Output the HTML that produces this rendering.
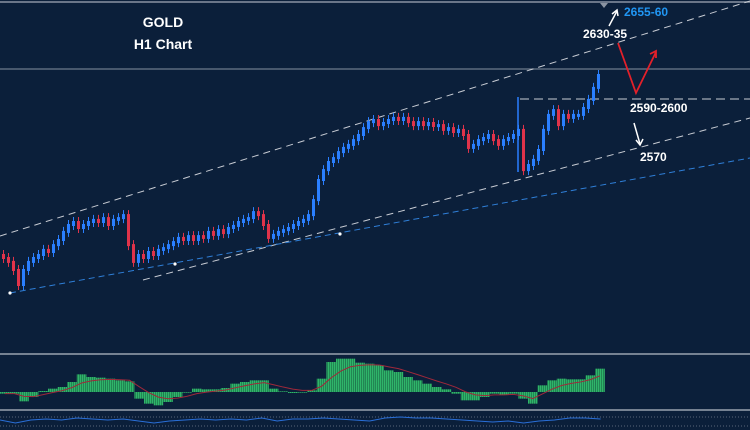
<!DOCTYPE html>
<html><head><meta charset="utf-8"><style>
html,body{margin:0;padding:0;background:#0b1f3a;width:750px;height:430px;overflow:hidden}
svg{display:block}
text{font-family:"Liberation Sans",sans-serif;font-weight:bold}
</style></head><body>
<svg id="chart" width="750" height="430" viewBox="0 0 750 430" xmlns="http://www.w3.org/2000/svg">
<defs>
<pattern id="stripes" width="2" height="4" patternUnits="userSpaceOnUse">
<rect x="0" y="0" width="1.4" height="4" fill="#2fb56a"/><rect x="1.4" y="0" width="0.6" height="4" fill="#1d7a4a"/>
</pattern>
</defs>
<rect x="0" y="0" width="750" height="430" fill="#0b1f3a"/>
<line x1="0" y1="2" x2="750" y2="2" stroke="#8a94a3" stroke-width="1.5"/>
<polygon points="600,3 608,3 604,8" fill="#8a94a3"/>
<line x1="0" y1="69" x2="750" y2="69" stroke="#6e7a8c" stroke-width="1.2"/>
<line x1="0" y1="236" x2="750" y2="1" stroke="#c8ccd4" stroke-width="1" stroke-dasharray="7,5"/>
<line x1="143" y1="280" x2="750" y2="118" stroke="#c8ccd4" stroke-width="1" stroke-dasharray="7,5"/>
<line x1="10" y1="293" x2="750" y2="158" stroke="#2f7fd8" stroke-width="1" stroke-dasharray="6,4"/>
<line x1="520" y1="99" x2="750" y2="99" stroke="#c8ccd4" stroke-width="1" stroke-dasharray="9,5"/>
<line x1="518" y1="97" x2="518" y2="172" stroke="#2a7fff" stroke-width="1.5"/>
<circle cx="10" cy="293" r="1.6" fill="#fff"/>
<circle cx="175" cy="264" r="1.6" fill="#fff"/>
<circle cx="340" cy="234" r="1.6" fill="#fff"/>
<g id="candles"></g>
<text x="163" y="27" fill="#fff" font-size="14" text-anchor="middle">GOLD</text>
<text x="163" y="49" fill="#fff" font-size="14" text-anchor="middle">H1 Chart</text>
<text x="624" y="16" fill="#2196f3" font-size="12">2655-60</text>
<text x="583" y="38" fill="#fff" font-size="12">2630-35</text>
<text x="630" y="112" fill="#fff" font-size="12">2590-2600</text>
<text x="640" y="161" fill="#fff" font-size="12">2570</text>
<g stroke="#fff" stroke-width="1.5" fill="none">
<line x1="609" y1="26" x2="617" y2="11"/><polyline points="612,14 617,10 618,16"/></g>
<g stroke="#fff" stroke-width="1.5" fill="none">
<line x1="634" y1="123" x2="640" y2="144"/><polyline points="636,140 640,145 643,139"/></g>
<g stroke="#e3202a" stroke-width="1.8" fill="none">
<polyline points="618,43 636,93 656,52"/><polyline points="650,54 656,51 656,58"/></g>
<line x1="0" y1="354" x2="750" y2="354" stroke="#9aa3b0" stroke-width="1.5"/>
<line x1="0" y1="410" x2="750" y2="410" stroke="#9aa3b0" stroke-width="1.5"/>
<g id="macd"></g>
<line x1="0" y1="417" x2="750" y2="417" stroke="#5a6678" stroke-width="1" stroke-dasharray="1,2"/>
<line x1="0" y1="426" x2="750" y2="426" stroke="#5a6678" stroke-width="1" stroke-dasharray="1,2"/>
<g id="osc"></g>
</svg>
<script>
const closes=[2557,2555.7,2553,2548,2553,2555.7,2557,2558,2559.7,2559,2561.3,2563,2565.7,2568,2569,2567,2568,2569,2569.7,2569,2570.3,2568,2569.7,2570.3,2571.3,2561.3,2555.7,2558,2557,2559,2558,2559.7,2560.3,2561.3,2562.3,2563.7,2563,2564.3,2563,2564.3,2563.7,2565.7,2564.7,2566.3,2565.3,2567,2567.7,2569,2569.7,2570.3,2572.3,2571.3,2568,2563.7,2564.7,2565.7,2566.3,2567,2568,2569,2569.7,2571.3,2576.3,2583,2586.3,2589,2590.3,2592.3,2593.7,2594.7,2596.3,2598,2600.3,2602.3,2603,2601.3,2602,2603,2603.7,2603,2603.7,2602.3,2601.3,2602.3,2601.3,2602,2601,2601.3,2599.7,2600.3,2599,2599.7,2598,2593.7,2594.7,2596.3,2597,2598,2596.3,2594.7,2596.3,2597,2598,2599.7,2586.3,2588,2589.7,2593,2599.7,2604.7,2606.3,2601.3,2604.7,2603.7,2604.7,2604.7,2607,2609.7,2613.7,2618];
const histogram=[-5,-5,-28,-15,3,10,15,30,53,45,43,40,35,32,-20,-35,-40,-30,-15,-2,10,8,8,12,25,30,35,35,10,2,-3,-2,5,40,90,100,100,88,85,80,65,60,45,35,25,15,8,-5,-25,-25,-15,-5,-8,-5,-20,-35,20,35,40,38,38,50,70];
const oscValues=[420,423,420,419,420,418,419,420,419,421,423,421,420,419,420,419,420,418,421,419,419,418,419,420,421,418,417,418,418,419,420,421,422,421,423,421,420,418,418,419];
const NS='http://www.w3.org/2000/svg';
const yPrice=p=>69+(2620-p)*3;
const xCandle=i=>2+i*5;
const cg=document.getElementById('candles');
closes.forEach((c,i)=>{
  const o=i?closes[i-1]:c+1;
  const up=c>=o, col=up?'#2a7fff':'#e0334a';
  const x=xCandle(i);
  const yo=yPrice(o), yc=yPrice(c);
  const w=document.createElementNS(NS,'line');
  w.setAttribute('x1',x+1.5);w.setAttribute('x2',x+1.5);
  w.setAttribute('y1',Math.min(yo,yc)-5);w.setAttribute('y2',Math.max(yo,yc)+5);
  w.setAttribute('stroke',col);w.setAttribute('stroke-width','1');
  
  
  cg.appendChild(w);
  const r=document.createElementNS(NS,'rect');
  r.setAttribute('x',x);r.setAttribute('width',3);
  r.setAttribute('y',Math.min(yo,yc)-1);r.setAttribute('height',Math.max(3,Math.abs(yo-yc)+2));
  r.setAttribute('fill',col);
  
  
  cg.appendChild(r);
});
const zeroY=392, hx=i=>i*9.6, hy=v=>zeroY-v/3;
const mg=document.getElementById('macd');
histogram.forEach((v,i)=>{
  const r=document.createElementNS(NS,'rect');
  r.setAttribute('x',hx(i));r.setAttribute('width',9.6);
  r.setAttribute('y',Math.min(hy(v),zeroY));r.setAttribute('height',Math.abs(v)/3);
  r.setAttribute('fill','url(#stripes)');
  
  
  mg.appendChild(r);
});
let s=histogram[0],pts=[];
histogram.forEach((v,i)=>{s=s+(v-s)*0.35;pts.push((hx(i)+4.8)+','+hy(s));});
const sl=document.createElementNS(NS,'polyline');
sl.setAttribute('points',pts.join(' '));sl.setAttribute('fill','none');
sl.setAttribute('stroke','#a0283a');sl.setAttribute('stroke-width','1');


mg.appendChild(sl);
const og=document.getElementById('osc');
const op=document.createElementNS(NS,'polyline');
op.setAttribute('points',oscValues.map((v,i)=>(i*15.4)+','+v).join(' '));
op.setAttribute('fill','none');op.setAttribute('stroke','#2a6fd8');op.setAttribute('stroke-width','1');


og.appendChild(op);
</script>
</body></html>
